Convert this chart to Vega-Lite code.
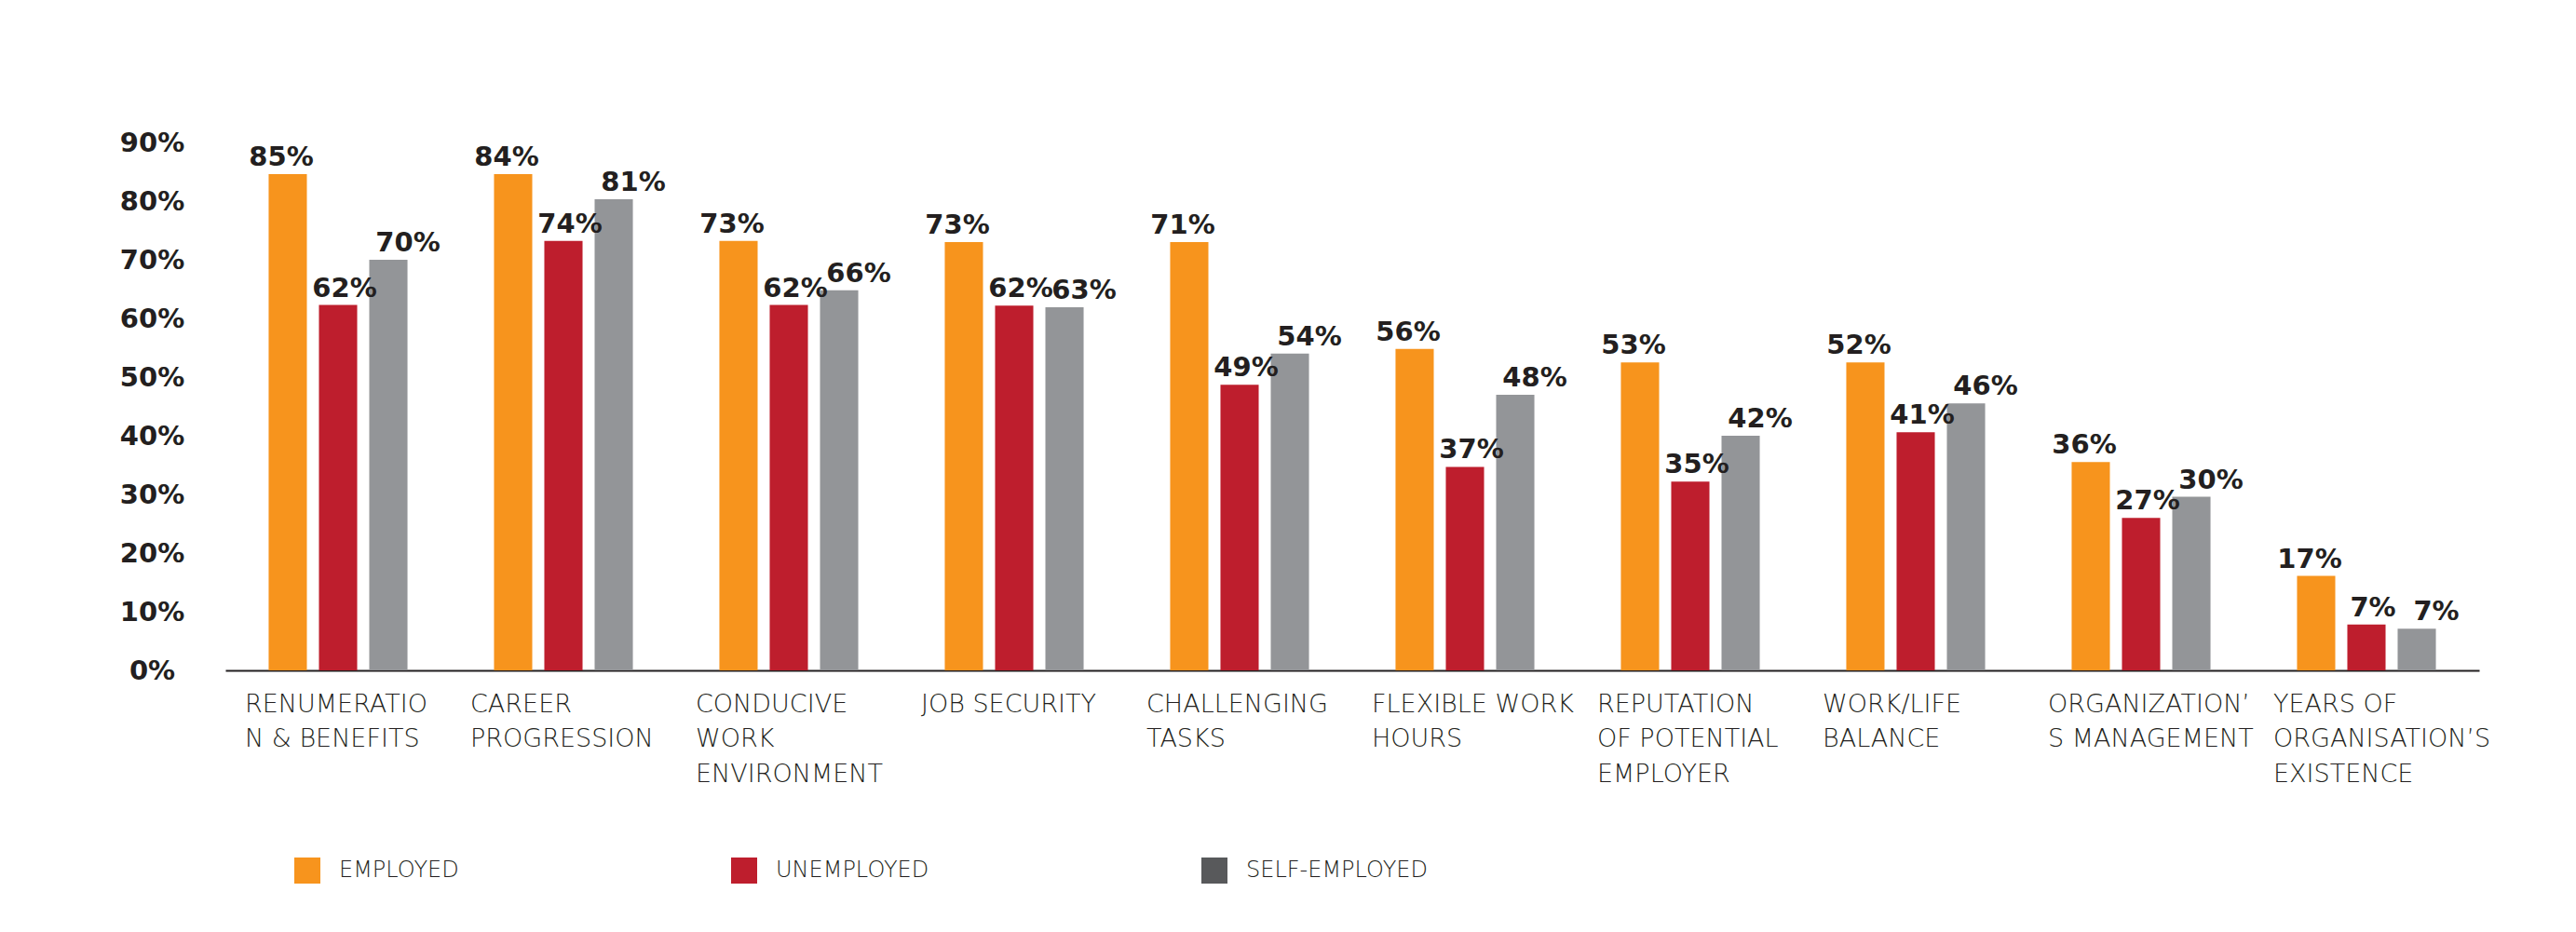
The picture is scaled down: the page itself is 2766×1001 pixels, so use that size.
{
  "$schema": "https://vega.github.io/schema/vega-lite/v6.json",
  "width": 2420,
  "height": 567,
  "autosize": {"type": "none"},
  "padding": {"left": 242, "top": 153, "right": 104, "bottom": 281},
  "background": "white",
  "config": {"view": {"stroke": null}, "font": "DejaVu Sans"},
  "data": {
    "values": [
      {"factor": "RENUMERATIO|N & BENEFITS", "status": "EMPLOYED", "value": 84.6, "label": "85%"},
      {"factor": "RENUMERATIO|N & BENEFITS", "status": "UNEMPLOYED", "value": 62.3, "label": "62%"},
      {"factor": "RENUMERATIO|N & BENEFITS", "status": "SELF-EMPLOYED", "value": 70.0, "label": "70%"},
      {"factor": "CAREER|PROGRESSION", "status": "EMPLOYED", "value": 84.6, "label": "84%"},
      {"factor": "CAREER|PROGRESSION", "status": "UNEMPLOYED", "value": 73.2, "label": "74%"},
      {"factor": "CAREER|PROGRESSION", "status": "SELF-EMPLOYED", "value": 80.3, "label": "81%"},
      {"factor": "CONDUCIVE|WORK|ENVIRONMENT", "status": "EMPLOYED", "value": 73.2, "label": "73%"},
      {"factor": "CONDUCIVE|WORK|ENVIRONMENT", "status": "UNEMPLOYED", "value": 62.3, "label": "62%"},
      {"factor": "CONDUCIVE|WORK|ENVIRONMENT", "status": "SELF-EMPLOYED", "value": 64.8, "label": "66%"},
      {"factor": "JOB SECURITY", "status": "EMPLOYED", "value": 73.0, "label": "73%"},
      {"factor": "JOB SECURITY", "status": "UNEMPLOYED", "value": 62.2, "label": "62%"},
      {"factor": "JOB SECURITY", "status": "SELF-EMPLOYED", "value": 61.9, "label": "63%"},
      {"factor": "CHALLENGING|TASKS", "status": "EMPLOYED", "value": 73.0, "label": "71%"},
      {"factor": "CHALLENGING|TASKS", "status": "UNEMPLOYED", "value": 48.7, "label": "49%"},
      {"factor": "CHALLENGING|TASKS", "status": "SELF-EMPLOYED", "value": 54.0, "label": "54%"},
      {"factor": "FLEXIBLE WORK|HOURS", "status": "EMPLOYED", "value": 54.8, "label": "56%"},
      {"factor": "FLEXIBLE WORK|HOURS", "status": "UNEMPLOYED", "value": 34.7, "label": "37%"},
      {"factor": "FLEXIBLE WORK|HOURS", "status": "SELF-EMPLOYED", "value": 47.0, "label": "48%"},
      {"factor": "REPUTATION|OF POTENTIAL|EMPLOYER", "status": "EMPLOYED", "value": 52.5, "label": "53%"},
      {"factor": "REPUTATION|OF POTENTIAL|EMPLOYER", "status": "UNEMPLOYED", "value": 32.2, "label": "35%"},
      {"factor": "REPUTATION|OF POTENTIAL|EMPLOYER", "status": "SELF-EMPLOYED", "value": 40.0, "label": "42%"},
      {"factor": "WORK/LIFE|BALANCE", "status": "EMPLOYED", "value": 52.5, "label": "52%"},
      {"factor": "WORK/LIFE|BALANCE", "status": "UNEMPLOYED", "value": 40.6, "label": "41%"},
      {"factor": "WORK/LIFE|BALANCE", "status": "SELF-EMPLOYED", "value": 45.5, "label": "46%"},
      {"factor": "ORGANIZATION’|S MANAGEMENT", "status": "EMPLOYED", "value": 35.5, "label": "36%"},
      {"factor": "ORGANIZATION’|S MANAGEMENT", "status": "UNEMPLOYED", "value": 26.0, "label": "27%"},
      {"factor": "ORGANIZATION’|S MANAGEMENT", "status": "SELF-EMPLOYED", "value": 29.6, "label": "30%"},
      {"factor": "YEARS OF|ORGANISATION’S|EXISTENCE", "status": "EMPLOYED", "value": 16.1, "label": "17%"},
      {"factor": "YEARS OF|ORGANISATION’S|EXISTENCE", "status": "UNEMPLOYED", "value": 7.8, "label": "7%"},
      {"factor": "YEARS OF|ORGANISATION’S|EXISTENCE", "status": "SELF-EMPLOYED", "value": 7.1, "label": "7%"}
    ]
  },
  "encoding": {
    "x": {
      "field": "factor",
      "type": "nominal",
      "sort": null,
      "scale": {"paddingInner": 0, "paddingOuter": 0},
      "axis": {
        "title": null,
        "labelExpr": "split(datum.label, '|')",
        "labelAngle": 0,
        "labelAlign": "left",
        "labelBaseline": "top",
        "labelOffset": -100,
        "labelPadding": 23,
        "labelFontSize": 27,
        "labelFont": "DejaVu Sans",
        "labelFontWeight": 300,
        "labelColor": "#231F20",
        "labelLineHeight": 37.5,
        "labelLimit": 0,
        "labelOverlap": false,
        "ticks": false,
        "domainColor": "#231F20",
        "domainWidth": 2
      }
    },
    "y": {
      "field": "value",
      "type": "quantitative",
      "scale": {"domain": [0, 90], "nice": false},
      "axis": {
        "title": null,
        "values": [0, 10, 20, 30, 40, 50, 60, 70, 80, 90],
        "labelExpr": "datum.value + '%'",
        "domain": false,
        "ticks": false,
        "grid": false,
        "labelAlign": "center",
        "labelPadding": 79,
        "labelFontSize": 29,
        "labelFontWeight": "bold",
        "labelColor": "#231F20",
        "labelFont": "DejaVu Sans"
      }
    }
  },
  "layer": [
    {
      "mark": {"type": "bar"},
      "encoding": {
        "xOffset": {
          "field": "status",
          "type": "nominal",
          "sort": ["EMPLOYED", "UNEMPLOYED", "SELF-EMPLOYED"],
          "scale": {"paddingInner": 0.24, "paddingOuter": 0.86}
        },
        "color": {
          "field": "status",
          "type": "nominal",
          "scale": {
            "domain": ["EMPLOYED", "UNEMPLOYED", "SELF-EMPLOYED"],
            "range": ["#F7941D", "#BE1E2D", "#939598"]
          },
          "legend": null
        }
      }
    },
    {
      "mark": {"type": "square", "size": 0, "filled": true, "opacity": 1},
      "encoding": {
        "xOffset": {
          "field": "status",
          "type": "nominal",
          "sort": ["EMPLOYED", "UNEMPLOYED", "SELF-EMPLOYED"],
          "scale": {"paddingInner": 0.24, "paddingOuter": 0.86}
        },
        "color": {
          "field": "status",
          "type": "nominal",
          "scale": {
            "domain": ["EMPLOYED", "UNEMPLOYED", "SELF-EMPLOYED"],
            "range": ["#F7941D", "#BE1E2D", "#58595B"]
          },
          "legend": {
            "orient": "none",
            "legendX": 74,
            "legendY": 768,
            "direction": "horizontal",
            "columns": 3,
            "title": null,
            "symbolType": "square",
            "symbolSize": 784,
            "symbolStrokeWidth": 0,
            "symbolOpacity": 1,
            "labelFontSize": 24,
            "labelFont": "DejaVu Sans",
            "labelFontWeight": 300,
            "labelColor": "#231F20",
            "labelOffset": 20,
            "labelLimit": 0,
            "columnPadding": 292,
            "padding": 0
          }
        }
      }
    },
    {
      "mark": {
        "type": "text",
        "baseline": "alphabetic",
        "dy": -9,
        "dx": 7,
        "fontSize": 29,
        "fontWeight": "bold",
        "font": "DejaVu Sans",
        "color": "#231F20"
      },
      "encoding": {
        "xOffset": {
          "field": "status",
          "type": "nominal",
          "sort": ["EMPLOYED", "UNEMPLOYED", "SELF-EMPLOYED"],
          "scale": {"padding": 0.779}
        },
        "text": {"field": "label"}
      }
    }
  ],
  "resolve": {
    "scale": {"color": "independent", "xOffset": "independent"},
    "legend": {"color": "independent"}
  }
}
